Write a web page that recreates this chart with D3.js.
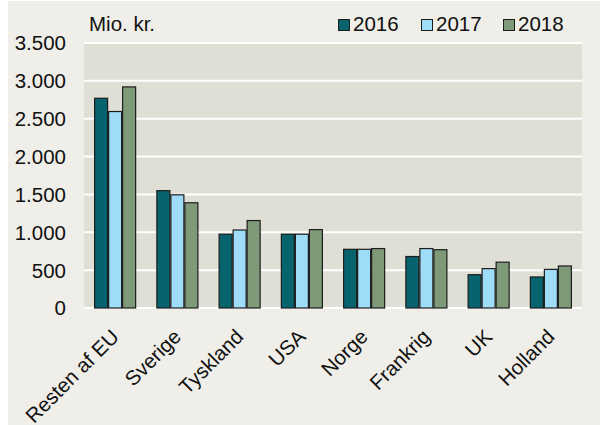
<!DOCTYPE html>
<html><head><meta charset="utf-8">
<script src="https://cdn.jsdelivr.net/npm/d3@7/dist/d3.min.js"></script>
<style>
html,body{margin:0;padding:0;background:#ffffff;}
svg{display:block;font-family:"Liberation Sans",Arial,sans-serif;}
</style></head>
<body>
<svg id="chart" width="600" height="425"></svg>
<script>
const categories = ["Resten af EU","Sverige","Tyskland","USA","Norge","Frankrig","UK","Holland"];
const years = ["2016","2017","2018"];
const values2016 = [2770,1550,975,975,775,680,440,410];
const values2017 = [2595,1495,1030,975,775,785,520,510];
const values2018 = [2920,1390,1155,1035,785,770,605,555];
const yTicks = [0,500,1000,1500,2000,2500,3000,3500];
const yTickLabels = ["0","500","1.000","1.500","2.000","2.500","3.000","3.500"];
const unitLabel = "Mio. kr.";
const colors = ["#07636e","#9fdcf8","#7f9a78"];

const series = [values2016, values2017, values2018];
const svg = d3.select("#chart");
const W = 600, H = 425;
const m = {left:84, right:582, top:43, bottom:308};
const fs = 20.5;

svg.append("rect").attr("x",8).attr("y",1).attr("width",W-8).attr("height",H-1).attr("fill","#efeee8");

const x0 = d3.scaleBand().domain(categories).range([m.left,m.right]).paddingInner(0.325).paddingOuter(0.1625);
const x1 = d3.scaleBand().domain(years).range([0,x0.bandwidth()]);
const y = d3.scaleLinear().domain([0,3500]).range([m.bottom,m.top]);

svg.append("rect").attr("x",m.left).attr("y",m.top).attr("width",m.right-m.left).attr("height",m.bottom-m.top).attr("fill","#e0dfd5");

svg.append("g").selectAll("line").data(yTicks).join("line")
  .attr("x1",m.left).attr("x2",m.right)
  .attr("y1",d=>y(d)).attr("y2",d=>y(d))
  .attr("stroke","#ffffff").attr("stroke-width",2);

svg.append("g").selectAll("text").data(yTicks).join("text")
  .attr("x",66).attr("y",d=>y(d)).attr("dy","0.36em")
  .attr("text-anchor","end").attr("font-size",fs).attr("fill","#111")
  .text((d,i)=>yTickLabels[i]);

const groups = svg.append("g").selectAll("g").data(categories).join("g")
  .attr("transform",d=>`translate(${x0(d)},0)`);
groups.selectAll("rect").data((c,ci)=>years.map((yr,si)=>({yr,v:series[si][ci],si})))
  .join("rect")
  .attr("x",d=>x1(d.yr)+0.5).attr("width",x1.bandwidth()-1)
  .attr("y",d=>y(d.v)).attr("height",d=>y(0)-y(d.v))
  .attr("fill",d=>colors[d.si]).attr("stroke","#1c1c1c").attr("stroke-width",1.2);

// x labels
svg.append("g").selectAll("text").data(categories).join("text")
  .attr("text-anchor","end").attr("font-size",fs).attr("fill","#111")
  .attr("transform",d=>`translate(${x0(d)+x0.bandwidth()/2+5},338) rotate(-45)`)
  .text(d=>d);

// unit label
svg.append("text").attr("x",89).attr("y",31).attr("font-size",fs).attr("fill","#111").text(unitLabel);

// legend
const legX = [338,421,503];
const leg = svg.append("g").selectAll("g").data(years).join("g")
  .attr("transform",(d,i)=>`translate(${legX[i]},19)`);
leg.append("rect").attr("x",0.5).attr("y",0.5).attr("width",11).attr("height",11)
  .attr("fill",(d,i)=>colors[i]).attr("stroke","#1c1c1c").attr("stroke-width",1);
leg.append("text").attr("x",15).attr("y",12).attr("font-size",fs).attr("fill","#111").text(d=>d);
</script>
</body></html>
